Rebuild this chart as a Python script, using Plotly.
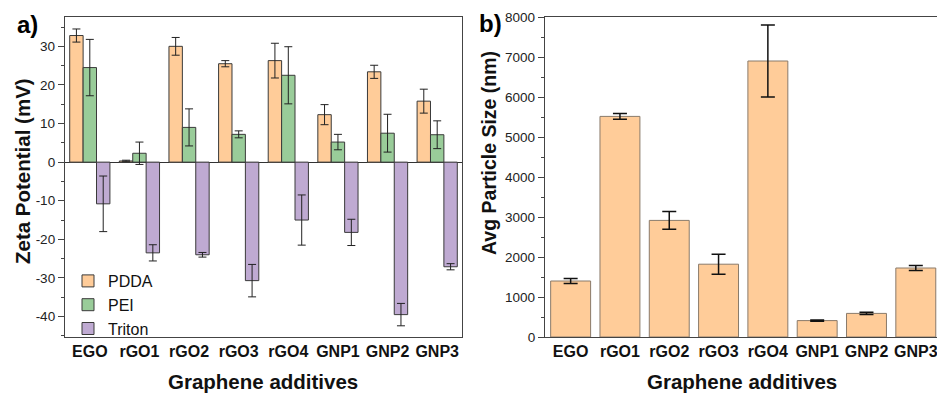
import plotly.graph_objects as go
from plotly.subplots import make_subplots

categories = ["EGO", "rGO1", "rGO2", "rGO3", "rGO4", "GNP1", "GNP2", "GNP3"]

pdda = [32.8, 0.3, 30.0, 25.5, 26.3, 12.3, 23.4, 15.8]
pdda_err = [1.7, 0.2, 2.3, 0.8, 4.5, 2.6, 1.7, 3.1]
pei = [24.5, 2.3, 9.0, 7.2, 22.5, 5.2, 7.5, 7.1]
pei_err = [7.3, 2.9, 4.8, 0.9, 7.4, 2.0, 4.9, 3.6]
triton = [-10.8, -23.5, -24.0, -30.7, -15.0, -18.2, -39.5, -27.1]
triton_err = [7.2, 2.1, 0.6, 4.2, 6.5, 3.4, 2.9, 0.8]

size = [1400, 5515, 2915, 1820, 6900, 410, 590, 1725]
size_err = [60, 70, 220, 250, 900, 15, 30, 65]

zeta_ticks = [-40, -30, -20, -10, 0, 10, 20, 30]
size_ticks = [0, 1000, 2000, 3000, 4000, 5000, 6000, 7000, 8000]

FONT = "Liberation Sans, Arial, sans-serif"
W, H = 937, 393


def px_x(v):
    return v / W


def px_y(v):
    return 1 - v / H


fig = make_subplots(rows=1, cols=2)

series = [("PDDA", pdda, pdda_err, "#FFCC99"),
          ("PEI", pei, pei_err, "#99CC99"),
          ("Triton", triton, triton_err, "#BFAAD2")]
for name, vals, errs, col in series:
    fig.add_trace(go.Bar(
        x=categories, y=vals, name=name,
        marker=dict(color=col, line=dict(color="#3a3a3a", width=1)),
        error_y=dict(type="data", array=errs, visible=True, color="#222222",
                     thickness=1, width=4),
    ), row=1, col=1)

fig.add_trace(go.Bar(
    x=categories, y=size, name="Avg size", showlegend=False,
    marker=dict(color="#FFCC99", line=dict(color="#8a7a6a", width=1)),
    error_y=dict(type="data", array=size_err, visible=True, color="#111111",
                 thickness=1.5, width=7),
), row=1, col=2)

y_top = px_y(17)
y_bot = px_y(337)

axis_line = dict(showline=True, linecolor="#444444", linewidth=1.3, automargin=False)
tickfont = dict(family=FONT, size=13.5, color="#222222")
catfont = dict(family=FONT, size=16, color="#111111", weight="bold")
titlefont = dict(family=FONT, size=20.5, color="#111111", weight="bold")

fig.update_xaxes(domain=[px_x(65), px_x(462)], range=[-0.5, 7.5], mirror=True,
                 ticks="", tickfont=catfont, showgrid=False, **axis_line, row=1, col=1)
fig.update_yaxes(domain=[y_bot, y_top], range=[-45.3, 37.6], mirror=True,
                 tickvals=zeta_ticks, ticktext=[str(t) for t in zeta_ticks],
                 ticks="outside", ticklen=6, tickcolor="#444444", tickfont=tickfont,
                 minor=dict(dtick=5, ticks="outside", ticklen=3, tickcolor="#444444"),
                 showgrid=False, zeroline=True, zerolinecolor="#333333", zerolinewidth=1.3,
                 **axis_line, row=1, col=1)

fig.update_xaxes(domain=[px_x(545), 1.0], range=[-0.52, 7.43], mirror=True,
                 ticks="", tickfont=catfont, showgrid=False, **axis_line, row=1, col=2)
fig.update_yaxes(domain=[y_bot, y_top], range=[0, 8000], mirror=False,
                 tickvals=size_ticks, ticktext=[str(t) for t in size_ticks],
                 ticks="outside", ticklen=6, tickcolor="#444444", tickfont=tickfont,
                 minor=dict(dtick=500, ticks="outside", ticklen=3, tickcolor="#444444"),
                 showgrid=False, zeroline=False, **axis_line, row=1, col=2)

ann = dict(xref="paper", yref="paper", showarrow=False, xanchor="center", yanchor="middle")
fig.update_layout(
    width=W, height=H,
    margin=dict(l=0, r=0, t=0, b=0, autoexpand=False),
    paper_bgcolor="white", plot_bgcolor="white",
    barmode="group", bargap=0.19, bargroupgap=0,
    font=dict(family=FONT, color="#111111"),
    showlegend=True,
    legend=dict(x=px_x(68), y=px_y(264), xanchor="left", yanchor="top",
                font=dict(family=FONT, size=16, color="#111111"),
                bgcolor="rgba(0,0,0,0)", tracegroupgap=0, itemwidth=30),
    annotations=[
        dict(text="<b>a)</b>", x=px_x(27), y=px_y(25), font=dict(family=FONT, size=24, color="#000000"), **ann),
        dict(text="<b>b)</b>", x=px_x(490), y=px_y(24), font=dict(family=FONT, size=24, color="#000000"), **ann),
        dict(text="<b>Zeta Potential (mV)</b>", x=px_x(23), y=px_y(171), textangle=-90,
             font=titlefont, **ann),
        dict(text="<b>Avg Particle Size (nm)</b>", x=px_x(489), y=px_y(153), textangle=-90,
             font=dict(family=FONT, size=19.5, color="#111111"), **ann),
        dict(text="<b>Graphene additives</b>", x=px_x(263), y=px_y(381), font=titlefont, **ann),
        dict(text="<b>Graphene additives</b>", x=px_x(742), y=px_y(381), font=titlefont, **ann),
    ],
)

fig.write_html("out.html")
